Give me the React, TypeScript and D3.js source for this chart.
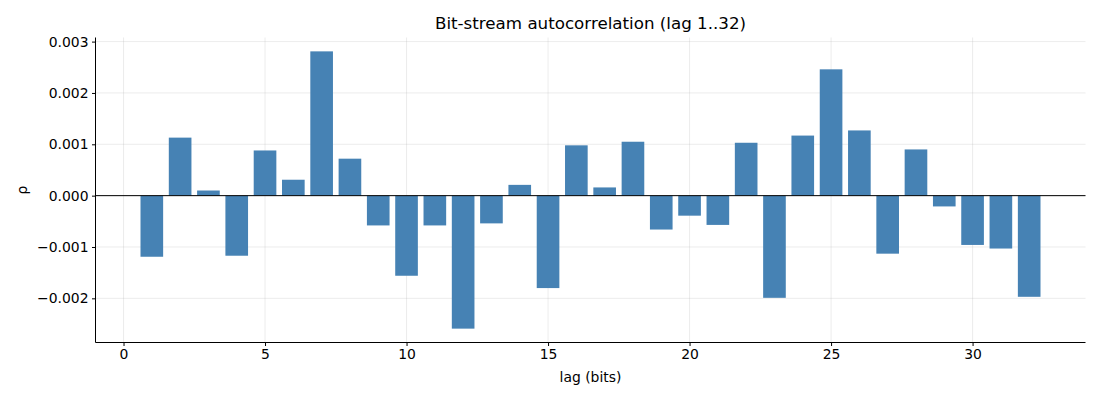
import * as d3 from 'd3'
import { useRef, useEffect } from 'react'

const lags = d3.range(1, 33)
const rho = [
  -0.00119, 0.00113, 0.0001, -0.00117, 0.00088, 0.00031, 0.00281, 0.00072,
  -0.00058, -0.00156, -0.00058, -0.00259, -0.00054, 0.00021, -0.0018, 0.00098,
  0.00016, 0.00105, -0.00066, -0.00039, -0.00057, 0.00103, -0.00199, 0.00117,
  0.00246, 0.00127, -0.00113, 0.0009, -0.00021, -0.00096, -0.00103, -0.00197,
]
const xTicks = [0, 5, 10, 15, 20, 25, 30]
const yTicks = [-0.002, -0.001, 0, 0.001, 0.002, 0.003]

const W = 1100
const H = 400
const margin = { top: 37.5, right: 14.5, bottom: 57.5, left: 95.5 }
const font = 'DejaVu Sans, sans-serif'

const App = () => {
  const ref = useRef(null)

  useEffect(() => {
    const svg = d3.select(ref.current)
    svg.selectAll('*').remove()

    const x = d3.scaleLinear().domain([-0.99, 33.99]).range([margin.left, W - margin.right])
    const lo = d3.min(rho), hi = d3.max(rho)
    const pad = (hi - lo) * 0.05
    const y = d3.scaleLinear().domain([lo - pad, hi + pad]).range([H - margin.bottom, margin.top])

    // grid
    svg.append('g').selectAll('line').data(xTicks).join('line')
      .attr('x1', d => x(d)).attr('x2', d => x(d))
      .attr('y1', margin.top).attr('y2', H - margin.bottom)
      .attr('stroke', '#b0b0b0').attr('stroke-opacity', 0.3).attr('stroke-width', 0.8)
    svg.append('g').selectAll('line').data(yTicks).join('line')
      .attr('y1', d => y(d)).attr('y2', d => y(d))
      .attr('x1', margin.left).attr('x2', W - margin.right)
      .attr('stroke', '#b0b0b0').attr('stroke-opacity', 0.3).attr('stroke-width', 0.8)

    // bars
    svg.append('g').selectAll('rect').data(rho).join('rect')
      .attr('x', (d, i) => x(lags[i] - 0.4))
      .attr('width', x(0.8) - x(0))
      .attr('y', d => y(Math.max(0, d)))
      .attr('height', d => Math.abs(y(d) - y(0)))
      .attr('fill', '#4682b4')

    // zero line
    svg.append('line')
      .attr('x1', margin.left).attr('x2', W - margin.right)
      .attr('y1', y(0)).attr('y2', y(0))
      .attr('stroke', '#000').attr('stroke-width', 1)

    // axes
    const xAxis = d3.axisBottom(x).tickValues(xTicks).tickSize(3.5).tickPadding(3.5).tickFormat(d3.format('d'))
    const yAxis = d3.axisLeft(y).tickValues(yTicks).tickSize(3.5).tickPadding(3.5)
      .tickFormat(d => d3.format('.3f')(d).replace('-', '\u2212'))

    const gx = svg.append('g').attr('transform', `translate(0,${H - margin.bottom})`).call(xAxis)
    const gy = svg.append('g').attr('transform', `translate(${margin.left},0)`).call(yAxis)
    for (const g of [gx, gy]) {
      g.select('.domain').attr('stroke', '#000').attr('stroke-width', 1)
      g.selectAll('.tick line').attr('stroke', '#000').attr('stroke-width', 1)
      g.selectAll('.tick text').attr('fill', '#000').style('font-family', font).style('font-size', '13.9px')
    }
    gx.select('.domain').attr('d', `M${margin.left},0H${W - margin.right}`)
    gy.select('.domain').attr('d', `M0,${margin.top}V${H - margin.bottom}`)

    // labels
    svg.append('text').attr('x', (margin.left + W - margin.right) / 2).attr('y', 29)
      .attr('text-anchor', 'middle').style('font-family', font).style('font-size', '16.7px')
      .text('Bit-stream autocorrelation (lag 1..32)')
    svg.append('text').attr('x', (margin.left + W - margin.right) / 2).attr('y', 382)
      .attr('text-anchor', 'middle').style('font-family', font).style('font-size', '13.9px')
      .text('lag (bits)')
    svg.append('text').attr('transform', `translate(27,${(margin.top + H - margin.bottom) / 2}) rotate(-90)`)
      .attr('text-anchor', 'middle').style('font-family', font).style('font-size', '13.9px')
      .text('ρ')
  }, [])

  return (
    <div style={{ position: 'absolute', left: 0, top: 0 }}>
      <svg ref={ref} width={W} height={H} style={{ display: 'block', background: '#fff' }} />
    </div>
  )
}

export default App
